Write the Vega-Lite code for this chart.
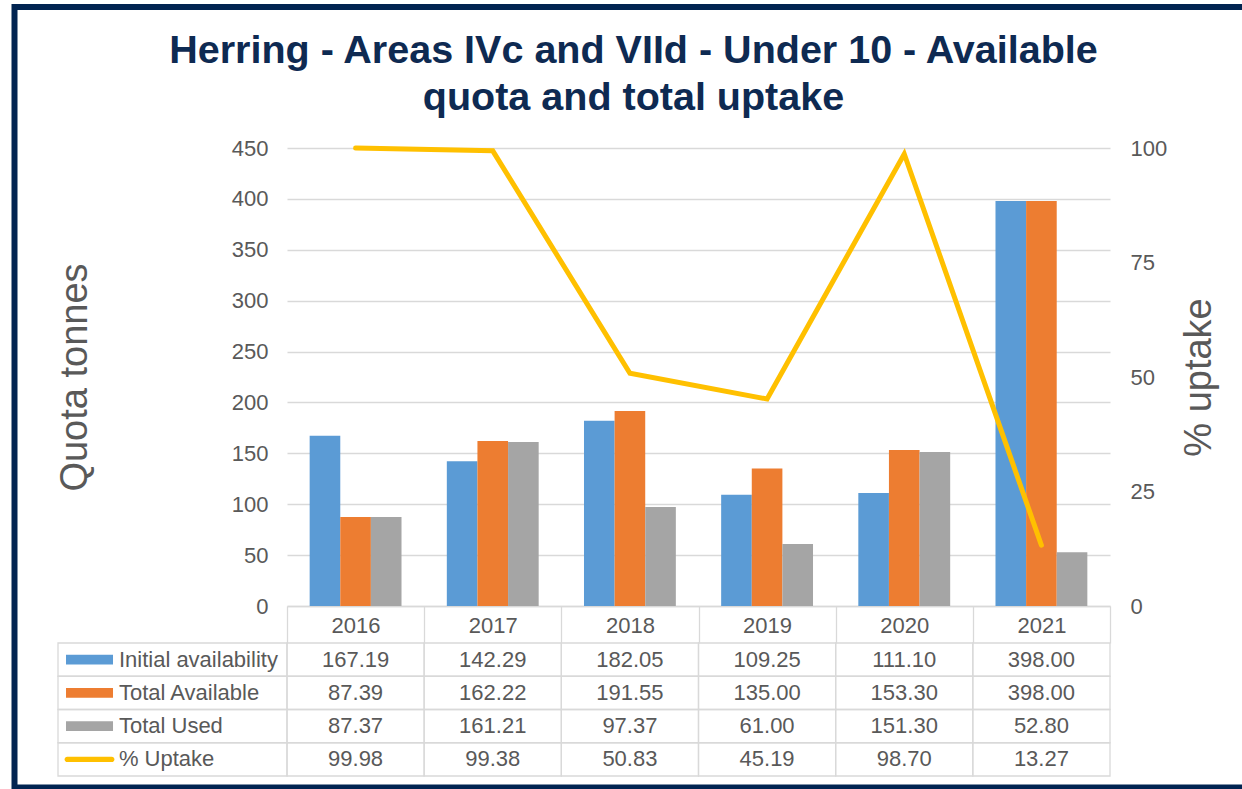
{
  "$schema": "https://vega.github.io/schema/vega-lite/v6.json",
  "width": 823,
  "height": 458,
  "autosize": {"type": "none"},
  "padding": {"left": 287, "top": 148, "right": 132, "bottom": 183},
  "background": "white",
  "config": {"view": {"stroke": null}, "font": "Liberation Sans"},
  "title": {
    "text": ["Herring - Areas IVc and VIId - Under 10 - Available", "quota and total uptake"],
    "fontSize": 39.5,
    "fontWeight": "bold",
    "font": "Liberation Sans",
    "color": "#0e2a52",
    "lineHeight": 47,
    "anchor": "middle",
    "frame": "group",
    "dx": -65,
    "offset": -114
  },
  "datasets": {
    "vals": [
      {"year": "2016", "series": "Initial availability", "value": 167.19},
      {"year": "2016", "series": "Total Available", "value": 87.39},
      {"year": "2016", "series": "Total Used", "value": 87.37},
      {"year": "2016", "series": "% Uptake", "value": 99.98},
      {"year": "2017", "series": "Initial availability", "value": 142.29},
      {"year": "2017", "series": "Total Available", "value": 162.22},
      {"year": "2017", "series": "Total Used", "value": 161.21},
      {"year": "2017", "series": "% Uptake", "value": 99.38},
      {"year": "2018", "series": "Initial availability", "value": 182.05},
      {"year": "2018", "series": "Total Available", "value": 191.55},
      {"year": "2018", "series": "Total Used", "value": 97.37},
      {"year": "2018", "series": "% Uptake", "value": 50.83},
      {"year": "2019", "series": "Initial availability", "value": 109.25},
      {"year": "2019", "series": "Total Available", "value": 135.00},
      {"year": "2019", "series": "Total Used", "value": 61.00},
      {"year": "2019", "series": "% Uptake", "value": 45.19},
      {"year": "2020", "series": "Initial availability", "value": 111.10},
      {"year": "2020", "series": "Total Available", "value": 153.30},
      {"year": "2020", "series": "Total Used", "value": 151.30},
      {"year": "2020", "series": "% Uptake", "value": 98.70},
      {"year": "2021", "series": "Initial availability", "value": 398.00},
      {"year": "2021", "series": "Total Available", "value": 398.00},
      {"year": "2021", "series": "Total Used", "value": 52.80},
      {"year": "2021", "series": "% Uptake", "value": 13.27}
    ],
    "frame": [{"part": "frame"}]
  },
  "data": {"name": "vals"},
  "layer": [
    {
      "data": {"name": "frame"},
      "mark": {"type": "rect", "fill": null, "stroke": "#012451", "strokeWidth": 6},
      "encoding": {
        "x": {"datum": 0, "type": "quantitative", "scale": {"domain": [0, 1], "range": [-272.5, 990], "zero": false, "nice": false}, "axis": null},
        "x2": {"datum": 1},
        "y": {"datum": 0, "type": "quantitative", "scale": {"domain": [0, 1], "range": [-141, 639.5], "zero": false, "nice": false}, "axis": null},
        "y2": {"datum": 1}
      }
    },
    {
      "layer": [
        {
          "transform": [{"filter": "datum.series != '% Uptake'"}],
          "mark": {"type": "bar"},
          "encoding": {
            "x": {
              "field": "year", "type": "nominal",
              "scale": {"paddingInner": 0, "paddingOuter": 0},
              "axis": {
                "title": null, "labelFontSize": 22, "labelColor": "#595959", "labelPadding": -28, "labelAngle": 0,
                "tickBand": "extent", "tickSize": 37, "tickColor": "#d9d9d9", "tickWidth": 1.3,
                "domainColor": "#d9d9d9", "domainWidth": 1.3, "grid": false
              }
            },
            "xOffset": {
              "field": "series", "type": "nominal",
              "sort": ["Initial availability", "Total Available", "Total Used"],
              "scale": {"paddingInner": 0, "paddingOuter": 0.74}
            },
            "y": {
              "field": "value", "type": "quantitative",
              "scale": {"domain": [0, 450], "nice": false},
              "axis": {
                "title": "Quota tonnes", "values": [0, 50, 100, 150, 200, 250, 300, 350, 400, 450],
                "grid": true, "gridColor": "#d9d9d9", "gridWidth": 1.3, "ticks": false, "domain": false,
                "labelFontSize": 22, "labelColor": "#595959", "labelPadding": 19,
                "titleFontSize": 38, "titleFontWeight": "normal", "titleColor": "#595959", "titlePadding": 137
              }
            },
            "color": {
              "field": "series", "type": "nominal",
              "scale": {
                "domain": ["Initial availability", "Total Available", "Total Used", "% Uptake"],
                "range": ["#5b9bd5", "#ed7d31", "#a5a5a5", "#ffc000"]
              },
              "legend": null
            }
          }
        },
        {
          "transform": [{"filter": "datum.series == '% Uptake'"}],
          "mark": {"type": "line", "color": "#ffc000", "strokeWidth": 5, "strokeCap": "round"},
          "encoding": {
            "x": {"field": "year", "type": "nominal"},
            "y": {
              "field": "value", "type": "quantitative",
              "scale": {"domain": [0, 100], "nice": false},
              "axis": {
                "orient": "right", "title": "% uptake", "values": [0, 25, 50, 75, 100],
                "grid": false, "ticks": false, "domain": false,
                "labelFontSize": 22, "labelColor": "#595959", "labelPadding": 20,
                "titleFontSize": 38, "titleFontWeight": "normal", "titleColor": "#595959",
                "titleAngle": 270, "titleBaseline": "top", "titlePadding": 14
              }
            }
          }
        },
        {
          "mark": {"type": "rect", "fill": null, "stroke": "#d9d9d9", "strokeWidth": 1.3},
          "encoding": {
            "x": {"field": "year", "type": "nominal"},
            "y": {
              "field": "series", "type": "nominal",
              "scale": {
                "domain": ["Initial availability", "Total Available", "Total Used", "% Uptake"],
                "range": [495, 628], "paddingInner": 0, "paddingOuter": 0
              },
              "axis": null
            }
          }
        },
        {
          "mark": {"type": "text", "fontSize": 22, "color": "#595959", "font": "Liberation Sans"},
          "encoding": {
            "x": {"field": "year", "type": "nominal"},
            "y": {
              "field": "series", "type": "nominal",
              "scale": {
                "domain": ["Initial availability", "Total Available", "Total Used", "% Uptake"],
                "range": [495, 628], "paddingInner": 0, "paddingOuter": 0
              },
              "axis": null
            },
            "text": {"field": "value", "type": "quantitative", "format": ".2f"}
          }
        }
      ],
      "resolve": {"scale": {"y": "independent"}}
    },
    {
      "transform": [{"filter": "datum.year == '2016'"}],
      "layer": [
        {
          "mark": {"type": "rect", "fill": null, "stroke": "#d9d9d9", "strokeWidth": 1.3},
          "encoding": {
            "x": {"datum": "label", "type": "nominal", "scale": {"domain": ["label"], "range": [-229, 0], "paddingInner": 0, "paddingOuter": 0}, "axis": null},
            "y": {
              "field": "series", "type": "nominal",
              "scale": {
                "domain": ["Initial availability", "Total Available", "Total Used", "% Uptake"],
                "range": [495, 628], "paddingInner": 0, "paddingOuter": 0
              },
              "axis": null
            }
          }
        },
        {
          "mark": {"type": "text", "fontSize": 22, "color": "#595959", "align": "left", "font": "Liberation Sans"},
          "encoding": {
            "x": {"datum": "label", "type": "nominal", "bandPosition": 0.266},
            "y": {"field": "series", "type": "nominal"},
            "text": {"field": "series", "type": "nominal"}
          }
        },
        {
          "mark": {"type": "point", "filled": true, "opacity": 1, "size": 2209},
          "encoding": {
            "x": {"datum": "label", "type": "nominal", "bandPosition": 0.1376},
            "y": {"field": "series", "type": "nominal"},
            "color": {"field": "series", "type": "nominal", "legend": null},
            "shape": {
              "field": "series", "type": "nominal",
              "scale": {
                "domain": ["Initial availability", "Total Available", "Total Used", "% Uptake"],
                "range": [
                  "M-1,-0.21L1,-0.21L1,0.21L-1,0.21Z",
                  "M-1,-0.21L1,-0.21L1,0.21L-1,0.21Z",
                  "M-1,-0.21L1,-0.21L1,0.21L-1,0.21Z",
                  "M-0.95,-0.11L0.95,-0.11A0.11,0.11 0 0 1 0.95,0.11L-0.95,0.11A0.11,0.11 0 0 1 -0.95,-0.11Z"
                ]
              },
              "legend": null
            }
          }
        }
      ]
    }
  ],
  "resolve": {"scale": {"x": "independent", "y": "independent"}}
}
